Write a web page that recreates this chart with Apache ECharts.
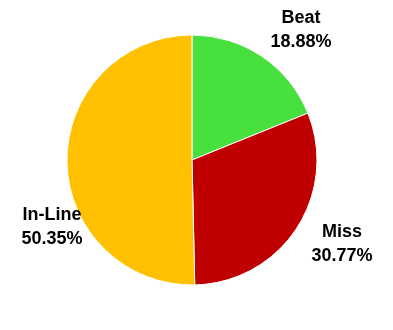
<!DOCTYPE html>
<html>
<head>
<meta charset="utf-8">
<script src="https://cdn.jsdelivr.net/npm/echarts@6/dist/echarts.min.js"></script>
<style>
  html, body { margin: 0; padding: 0; background: #fff; }
  #chart { width: 393px; height: 330px; }
</style>
</head>
<body>
<div id="chart"></div>
<script>
// Share of results by outcome
const categories = ['Beat', 'Miss', 'In-Line'];
const shares = [18.88, 30.77, 50.35];
const sliceColors = ['#47E03F', '#C00000', '#FFC000'];

// Where each label's block is centred
const labelSpots = [[301, 30], [342, 244], [52, 227]];

const chart = echarts.init(document.getElementById('chart'), null, { renderer: 'canvas' });

chart.setOption({
  animation: false,
  series: [{
    type: 'pie',
    center: [192, 160],
    radius: 125,
    startAngle: 90,
    clockwise: true,
    data: categories.map((name, i) => ({
      name: name,
      value: shares[i],
      itemStyle: { color: sliceColors[i] }
    })),
    itemStyle: { borderColor: '#ffffff', borderWidth: 1 },
    label: {
      show: true,
      position: 'inside',
      overflow: 'none',
      formatter: p => p.name + '\n' + p.value.toFixed(2) + '%',
      fontFamily: '"Liberation Sans", Arial, sans-serif',
      fontWeight: 'bold',
      fontSize: 18,
      lineHeight: 24,
      color: '#000',
      align: 'center'
    },
    labelLine: { show: false },
    labelLayout: params => ({
      x: labelSpots[params.dataIndex][0],
      y: labelSpots[params.dataIndex][1],
      align: 'center',
      verticalAlign: 'middle',
      hideOverlap: false
    })
  }]
});
</script>
</body>
</html>
